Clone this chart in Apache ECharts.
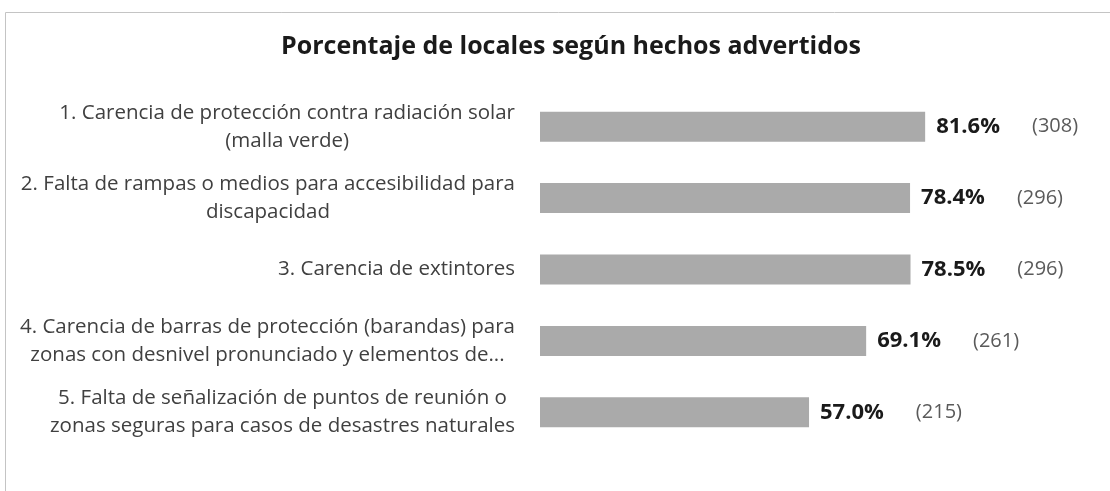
<!DOCTYPE html>
<html>
<head>
<meta charset="utf-8">
<script src="https://cdn.jsdelivr.net/npm/echarts@6/dist/echarts.min.js"></script>
<style>
  html, body { margin: 0; padding: 0; background: #fff; }
  #chart { width: 1110px; height: 491px; }
</style>
</head>
<body>
<div id="chart"></div>
<script>
var categories = [
  '1. Carencia de protección contra radiación solar\n(malla verde)',
  '2. Falta de rampas o medios para accesibilidad para\ndiscapacidad',
  '3. Carencia de extintores',
  '4. Carencia de barras de protección (barandas) para\nzonas con desnivel pronunciado y elementos de...',
  '5. Falta de señalización de puntos de reunión o\nzonas seguras para casos de desastres naturales'
];
var percentages = [81.6, 78.4, 78.5, 69.1, 57.0];
var counts = [308, 296, 296, 261, 215];

var chart = echarts.init(document.getElementById('chart'));

var option = {
  backgroundColor: '#fff',
  animation: false,
  title: {
    text: 'Porcentaje de locales según hechos advertidos',
    left: 276,
    top: 29,
    textStyle: {
      fontFamily: 'Open Sans',
      fontSize: 25,
      fontWeight: 'bold',
      color: '#1a1a1a'
    }
  },
  // marco del gráfico
  graphic: [{
    type: 'rect',
    silent: true,
    shape: { x: 5.5, y: 12.5, width: 1120, height: 490 },
    style: { fill: 'none', stroke: '#c4c4c4', lineWidth: 1 }
  }],
  grid: {
    left: 540,
    right: 98,
    top: 91,
    bottom: 43
  },
  xAxis: {
    type: 'value',
    min: 0,
    max: 100,
    show: false
  },
  yAxis: {
    type: 'category',
    inverse: true,
    data: categories,
    axisLine: { show: false },
    axisTick: { show: false },
    splitLine: { show: false },
    axisLabel: {
      margin: 25,
      align: 'right',
      formatter: function (v) {
        // cada línea centrada dentro del bloque
        return v.split('\n').map(function (l) { return '{c|' + l + '}'; }).join('\n');
      },
      rich: {
        c: {
          align: 'center',
          fontFamily: 'Open Sans',
          fontSize: 20.5,
          lineHeight: 28,
          color: '#404040'
        }
      }
    }
  },
  series: [{
    type: 'bar',
    data: percentages,
    barWidth: 30,
    itemStyle: { color: '#aaaaaa' },
    label: {
      show: true,
      position: 'right',
      distance: 11,
      formatter: function (p) {
        return '{pct|' + p.value.toFixed(1) + '%}{cnt|(' + counts[p.dataIndex] + ')}';
      },
      rich: {
        pct: {
          fontFamily: 'Open Sans',
          fontSize: 22,
          fontWeight: 'bold',
          color: '#1a1a1a'
        },
        cnt: {
          fontFamily: 'Open Sans',
          fontSize: 20,
          color: '#5a5a5a',
          padding: [0, 0, 0, 32]
        }
      }
    }
  }]
};

chart.setOption(option);
</script>
</body>
</html>
